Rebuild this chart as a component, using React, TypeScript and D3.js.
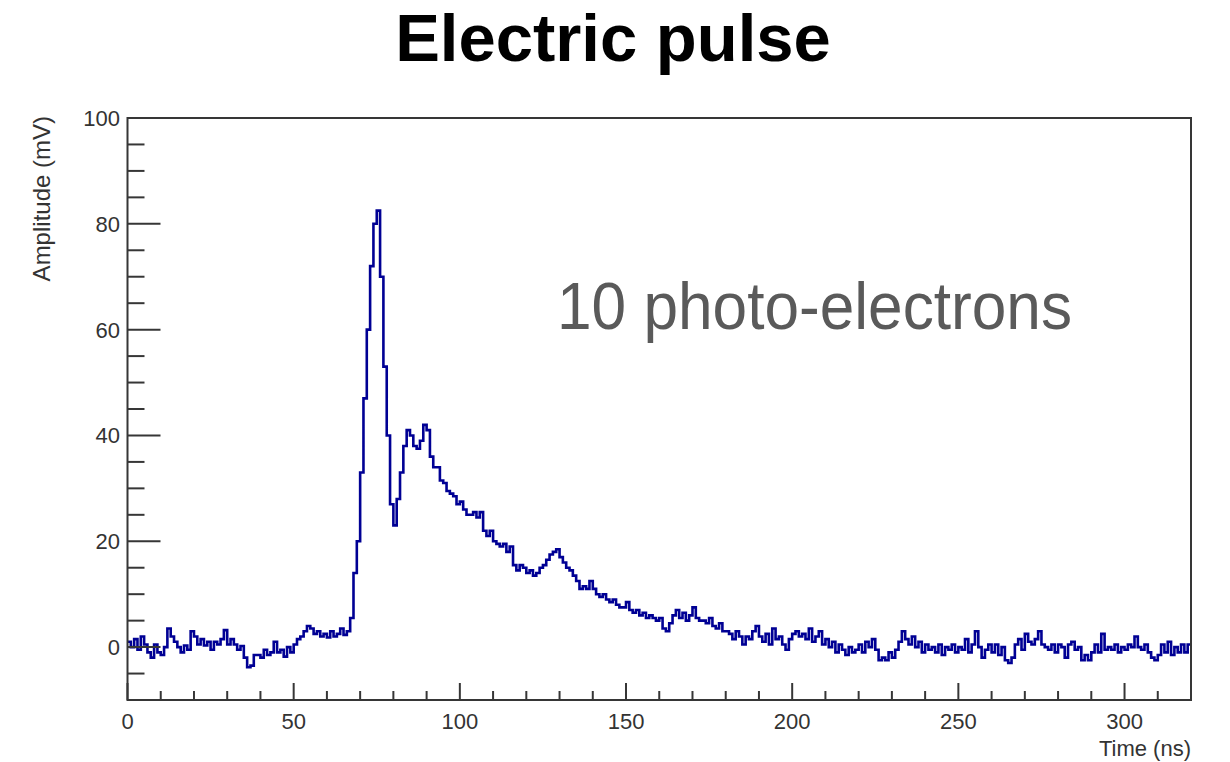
import React, { useRef, useEffect } from 'react';
import * as d3 from 'd3';

// amplitude in mV, one value per 1 ns bin, starting at t = 0 ns
const amplitude = [
  1, 0, 1.5, -0.5, 2, 0.5, -1, -2, 0.5, -1,
  -1.5, 0, 3.5, 2, 1, 0, -1, 0.3, -0.5, 3,
  2, 0.5, 1.5, 0.3, 1, -0.5, 1, 0.5, 1.5, 3.2,
  0.5, 1.5, 0.5, -0.5, 0.2, -2, -3.8, -3.5, -1.5, -1.5,
  -2, -0.5, -1.5, -1, 1, -1, -0.5, -1.8, 0, -1,
  0.5, 1.5, 2, 3, 4, 3.5, 2.5, 3, 2, 2.5,
  1.8, 3, 2, 2.5, 3.5, 2.3, 3, 5.5, 14, 20,
  33, 47, 60, 72, 80, 82.5, 70, 53, 40, 27,
  23, 28, 33, 38, 41, 40, 38, 37.5, 39, 42,
  41, 36, 34, 34, 31.5, 31, 29.5, 29, 28.5, 27,
  27.5, 26, 25, 25, 25.5, 24.5, 25.5, 22, 21, 22,
  20, 19.5, 19, 19.5, 18, 19, 15.5, 14.5, 15.5, 15,
  14, 14.5, 13.5, 14, 15, 15.5, 16.5, 17.5, 18, 18.5,
  17, 16, 15, 14.5, 13.5, 12.5, 11, 11.5, 11, 12.5,
  11, 10, 9.5, 10, 9, 8.5, 9, 8, 7.5, 7.5,
  8.5, 7, 6.5, 7, 6, 6.5, 5.5, 6, 5.5, 5,
  5.5, 3.5, 3, 4.5, 6, 7, 5.5, 6.5, 5, 6,
  7.5, 5.5, 5, 5, 4.5, 5.5, 4, 3.5, 4.5, 3,
  3, 2.5, 1.5, 3, 2, 0.5, 2, 1.5, 3, 4,
  2, 1, 2.5, 0.5, 3.5, 1.5, 2, 0.5, -0.5, 1.5,
  2.5, 3, 2, 2.5, 1.5, 3.5, 1, 2, 3, 0.5,
  1.5, 0, 1, -1, 0.5, -0.5, -1.5, 0, -1, -0.5,
  0.5, -1, 1, 0, 1.5, -0.5, -2.5, -2, -2.5, -1,
  -2, -0.5, 1, 3, 1.5, 0.5, 2, 0, 1, -1,
  0.5, -0.5, 0, -1, 0.5, -1.5, 0, -0.5, 0.5, -1,
  0, -0.5, 1.5, -1, 0.5, 3, 0, -2, -0.5, 0.5,
  -1, 0.5, -1.5, 0, -2.5, -3, -2, 0.5, 1.5, -0.5,
  2.5, 1, 0.5, 1.5, 3, 0.5, 0, -0.5, 0.5, -1,
  0.5, 0, -2, 0.5, 1, -0.5, 0, -2.5, -1.5, -2.5,
  -1, 0.5, -1, 2.5, -0.5, 0, -0.5, 0.5, -1, 0,
  -0.5, 0.5, 0, 2, 0, -0.5, 0.5, -1, -2, -2.5,
  -1.5, 0.5, -1, 1, -1.5, 0, -1, 0.5, -1, 0.5,
];

const xMajor = [0, 50, 100, 150, 200, 250, 300];
const yMajor = [0, 20, 40, 60, 80, 100];

const font = '"Liberation Sans", Arial, Helvetica, sans-serif';

const App = () => {
  const chartRef = useRef(null);

  useEffect(() => {
    const svg = d3.select(chartRef.current);
    svg.selectAll('*').remove();

    const frame = { left: 127.5, right: 1191, top: 118, bottom: 700 };
    const x = d3.scaleLinear().domain([0, 320]).range([frame.left, frame.right]);
    const y = d3.scaleLinear().domain([-10, 100]).range([frame.bottom, frame.top]);

    // title
    svg.append('text')
      .attr('x', 613).attr('y', 61)
      .attr('text-anchor', 'middle')
      .attr('font-family', font).attr('font-weight', 'bold')
      .attr('font-size', 67).attr('fill', '#000')
      .text('Electric pulse');

    svg.append('clipPath').attr('id', 'frameClip')
      .append('rect')
      .attr('x', frame.left).attr('y', frame.top)
      .attr('width', frame.right - frame.left).attr('height', frame.bottom - frame.top);

    // histogram steps
    const pts = amplitude.map((v, i) => [i, v]);
    pts.push([amplitude.length, amplitude[amplitude.length - 1]]);
    const line = d3.line()
      .x(d => x(d[0]))
      .y(d => y(d[1]))
      .curve(d3.curveStepAfter);

    svg.append('path')
      .datum(pts)
      .attr('clip-path', 'url(#frameClip)')
      .attr('d', line)
      .attr('fill', 'none')
      .attr('stroke', '#000094')
      .attr('stroke-width', 2.6)
      .attr('stroke-linejoin', 'miter');

    const axisColor = '#363636';

    // frame
    svg.append('rect')
      .attr('x', frame.left).attr('y', frame.top)
      .attr('width', frame.right - frame.left).attr('height', frame.bottom - frame.top)
      .attr('fill', 'none').attr('stroke', axisColor).attr('stroke-width', 2);

    // x ticks
    const xTicks = d3.range(0, 320, 10);
    svg.append('g').selectAll('line').data(xTicks).enter().append('line')
      .attr('x1', d => x(d)).attr('x2', d => x(d))
      .attr('y1', frame.bottom)
      .attr('y2', d => frame.bottom - (d % 50 === 0 ? 17 : 9))
      .attr('stroke', axisColor).attr('stroke-width', 2);

    svg.append('g').selectAll('text').data(xMajor).enter().append('text')
      .attr('x', d => x(d)).attr('y', 729)
      .attr('text-anchor', 'middle')
      .attr('font-family', font).attr('font-size', 22).attr('fill', '#333')
      .text(d => d);

    // y ticks
    const yTicks = d3.range(-5, 100, 5);
    svg.append('g').selectAll('line').data(yTicks).enter().append('line')
      .attr('x1', frame.left)
      .attr('x2', d => frame.left + (d % 20 === 0 ? 33 : 17))
      .attr('y1', d => y(d)).attr('y2', d => y(d))
      .attr('stroke', axisColor).attr('stroke-width', 2);

    svg.append('g').selectAll('text').data(yMajor).enter().append('text')
      .attr('x', 120).attr('y', d => y(d) + 8)
      .attr('text-anchor', 'end')
      .attr('font-family', font).attr('font-size', 22).attr('fill', '#333')
      .text(d => d);

    // axis titles
    svg.append('text')
      .attr('transform', 'translate(50,' + (frame.top - 2) + ') rotate(-90)')
      .attr('text-anchor', 'end')
      .attr('font-family', font).attr('font-size', 24).attr('fill', '#333')
      .text('Amplitude (mV)');

    svg.append('text')
      .attr('x', frame.right).attr('y', 756)
      .attr('text-anchor', 'end')
      .attr('font-family', font).attr('font-size', 22).attr('fill', '#333')
      .text('Time (ns)');

    // annotation
    svg.append('text')
      .attr('x', 557).attr('y', 329)
      .attr('font-family', font).attr('font-size', 66).attr('fill', '#5a5a5a')
      .attr('textLength', 515).attr('lengthAdjust', 'spacingAndGlyphs')
      .text('10 photo-electrons');
  });

  return (
    <svg
      ref={chartRef}
      width="1230"
      height="762"
      style={{ position: 'absolute', left: 0, top: 0, background: '#fff' }}
    />
  );
};

export default App;
